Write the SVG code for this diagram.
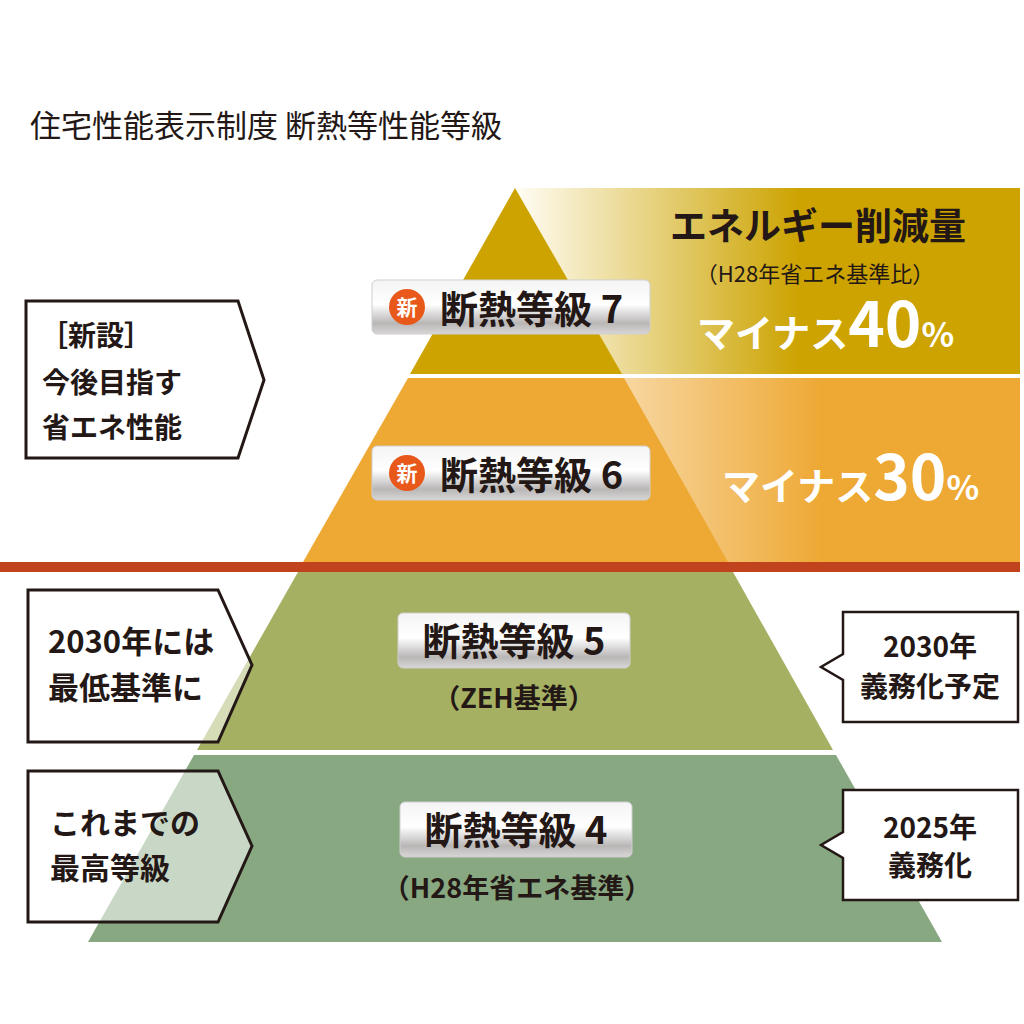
<svg xmlns="http://www.w3.org/2000/svg" width="1024" height="1024" viewBox="0 0 1024 1024">
<defs>
<linearGradient id="gGold" x1="515" y1="0" x2="800" y2="0" gradientUnits="userSpaceOnUse"><stop offset="0" stop-color="#fffdf5"/><stop offset="1" stop-color="#cca300"/></linearGradient>
<linearGradient id="gOr" x1="600" y1="0" x2="820" y2="0" gradientUnits="userSpaceOnUse"><stop offset="0" stop-color="#f8dcae"/><stop offset="1" stop-color="#eea935"/></linearGradient>
<linearGradient id="gSil" x1="0" y1="0" x2="0" y2="1"><stop offset="0" stop-color="#f4f4f4"/><stop offset="0.45" stop-color="#ffffff"/><stop offset="0.8" stop-color="#b9b6b6"/><stop offset="1" stop-color="#d8d6d6"/></linearGradient>
<style>
.t{font-family:"Noto Sans CJK JP","Noto Sans",sans-serif;fill:#231815}
.b{font-weight:700}
.w{fill:#fff}
.box{fill:#fff;fill-opacity:0.55;stroke:#231815;stroke-width:3}
.badge{fill:url(#gSil);stroke:#cfcfcf;stroke-width:1}
</style>
</defs>
<rect width="1024" height="1024" fill="#fff"/>
<text class="t" x="30" y="137" font-size="31">住宅性能表示制度 断熱等性能等級</text>
<rect x="515" y="188" width="505" height="186" fill="url(#gGold)"/>
<rect x="560" y="378" width="460" height="184" fill="url(#gOr)"/>
<g id="tier7"><polygon points="515,188 622,374 410,374" fill="#cca300"/></g>
<g id="tier6"><polygon points="408,378 624,378 728,562 303,562" fill="#eea935"/></g>
<rect x="0" y="562" width="1020" height="10" fill="#c0431e"/>
<g id="tier5"><polygon points="298,572 733,572 833,750 197,750" fill="#a5b063"/></g>
<g id="tier4"><polygon points="194,755 836,755 942,942 88,942" fill="#88a882"/></g>
<g id="badges">
<rect class="badge" x="372" y="280" width="278" height="54" rx="5"/>
<circle cx="407" cy="307" r="18" fill="#e8581a"/>
<text class="t b w" x="407" y="315" font-size="21" text-anchor="middle">新</text>
<text class="t b" x="440" y="323" font-size="38">断熱等級 7</text>
<rect class="badge" x="372" y="446" width="278" height="54" rx="5"/>
<circle cx="407" cy="473" r="18" fill="#e8581a"/>
<text class="t b w" x="407" y="481" font-size="21" text-anchor="middle">新</text>
<text class="t b" x="440" y="489" font-size="38">断熱等級 6</text>
<rect class="badge" x="398" y="613" width="232" height="55" rx="5"/>
<text class="t b" x="514" y="655" font-size="38" text-anchor="middle">断熱等級 5</text>
<text class="t b" x="514" y="708" font-size="27" text-anchor="middle">（ZEH基準）</text>
<rect class="badge" x="400" y="802" width="232" height="55" rx="5"/>
<text class="t b" x="516" y="844" font-size="38" text-anchor="middle">断熱等級 4</text>
<text class="t b" x="517" y="898" font-size="27" text-anchor="middle">（H28年省エネ基準）</text>
</g>
<g id="reduction">
<text class="t b" x="818" y="240" font-size="37" text-anchor="middle">エネルギー削減量</text>
<text class="t" x="815" y="282" font-size="22" text-anchor="middle">（H28年省エネ基準比）</text>
<text class="t b w" x="697" y="347" font-size="38">マイナス<tspan font-size="62">40</tspan><tspan font-size="34">%</tspan></text>
<text class="t b w" x="722" y="500" font-size="38">マイナス<tspan font-size="62">30</tspan><tspan font-size="34">%</tspan></text>
</g>
<g id="left1"><polygon class="box" points="26,301 238,301 264,380 238,458 26,458"/>
<text class="t b" x="40" y="346" font-size="28">［新設］</text>
<text class="t b" x="42" y="393" font-size="28">今後目指す</text>
<text class="t b" x="42" y="438" font-size="28">省エネ性能</text></g>
<g id="left2"><polygon class="box" points="28,590 218,590 252,665 218,742 28,742"/>
<text class="t b" x="48" y="653" font-size="31">2030年には</text>
<text class="t b" x="48" y="699" font-size="31">最低基準に</text></g>
<g id="left3"><polygon class="box" points="28,771 218,771 252,846 218,922 28,922"/>
<text class="t b" x="50" y="834" font-size="30">これまでの</text>
<text class="t b" x="50" y="879" font-size="30">最高等級</text></g>
<g id="right1"><polygon points="843,612 1018,612 1018,722 843,722 843,680 821,667 843,654" fill="#fff" stroke="#231815" stroke-width="2.5"/>
<text class="t b" x="930" y="657" font-size="28" text-anchor="middle">2030年</text>
<text class="t b" x="930" y="697" font-size="28" text-anchor="middle">義務化予定</text></g>
<g id="right2"><polygon points="843,790 1018,790 1018,900 843,900 843,858 821,845 843,832" fill="#fff" stroke="#231815" stroke-width="2.5"/>
<text class="t b" x="930" y="838" font-size="28" text-anchor="middle">2025年</text>
<text class="t b" x="930" y="876" font-size="28" text-anchor="middle">義務化</text></g>
</svg>
